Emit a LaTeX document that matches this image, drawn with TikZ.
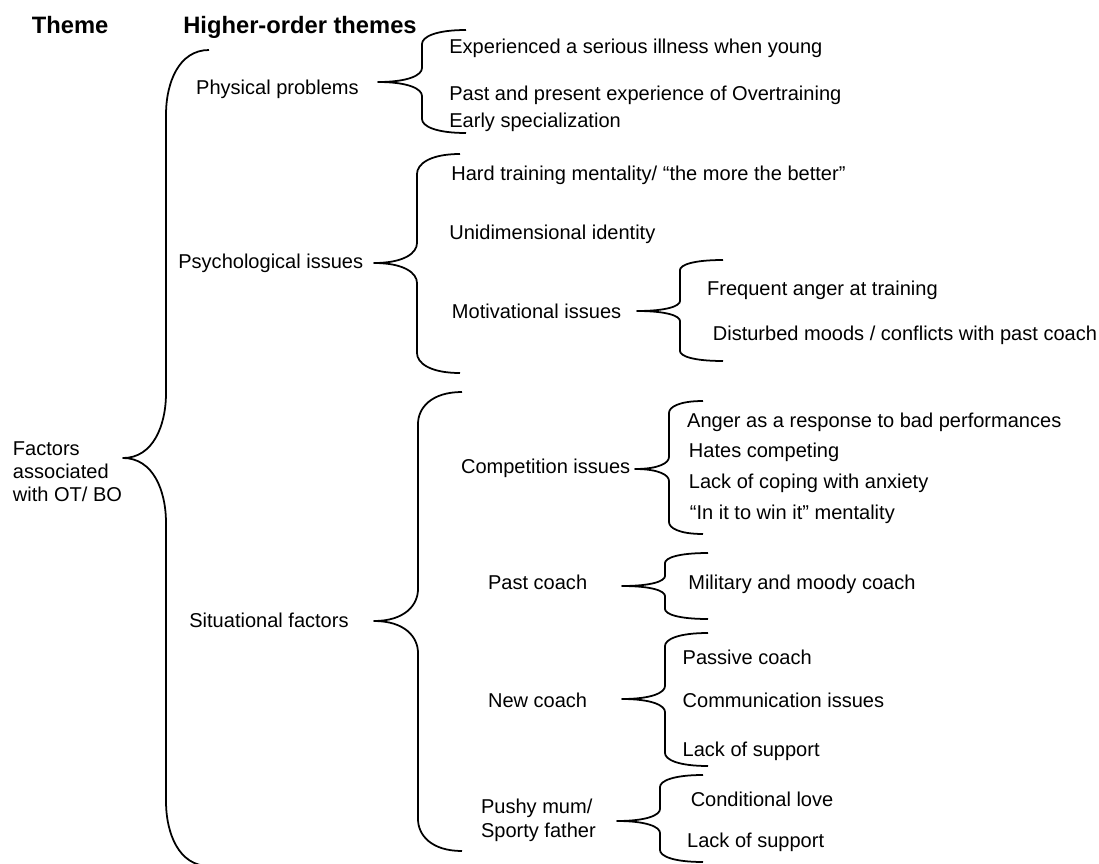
\documentclass[tikz,border=0pt]{standalone}
\usepackage{fontspec}
\setmainfont{Liberation Sans}
\usepackage{tikz}
\usetikzlibrary{positioning}
\tikzset{
  item/.style ={anchor=base west,inner sep=0pt,
                font=\fontsize{11.4}{13.1}\selectfont},
  multi/.style={item,align=left},
  head/.style ={anchor=base west,inner sep=0pt,
                font=\fontsize{13.5}{16}\selectfont\bfseries},
  brc/.style  ={draw=black,line width=1pt,line join=round}
}
% curly brace in Word style: line x, top y, tip y, bottom y, curl height, width
\newcommand{\wordbrace}[6]{%
  \draw[brc] (#1+#6,#2) .. controls (#1+0.3*#6,#2) and (#1,#2+0.5*#5) .. (#1,#2+#5)
    -- (#1,#3-#5) .. controls (#1,#3-0.5*#5) and (#1-0.3*#6,#3) .. (#1-#6,#3)
    .. controls (#1-0.3*#6,#3) and (#1,#3+0.5*#5) .. (#1,#3+#5)
    -- (#1,#4-#5) .. controls (#1,#4-0.5*#5) and (#1+0.3*#6,#4) .. (#1+#6,#4);}
\begin{document}
\begin{tikzpicture}[x=0.2mm,y=-0.2mm]
    \useasboundingbox (0,0) rectangle (1099,864);
    % --- column heads ---
    \node[head] (theme) at (31.6,33) {Theme};
    \node[head] (hot) at (183,33) {Higher-order themes};
    % --- theme (base = last line) ---
    \node[multi] (factors) at (12.6,501.6) {Factors\\associated\\with OT/ BO};
    \wordbrace{166}{50}{458}{866}{65}{43}
    % --- higher-order themes ---
    \node[item] (phys) at (195.8,94.3) {Physical problems};
    \node[item] (psych) at (178,268.3) {Psychological issues};
    \node[item] (sit) at (189,627.6) {Situational factors};
    % physical problems
    \wordbrace{422}{30}{82}{133}{14}{44}
    \node[item] (ill) at (449,53.6) {Experienced a serious illness when young};
    \node[item] (overtr) at (449,100.3) {Past and present experience of Overtraining};
    \node[item] (early) at (449,127) {Early specialization};
    % psychological issues
    \wordbrace{417}{154}{263}{373}{20}{43}
    \node[item] (hard) at (451,180) {Hard training mentality/ “the more the better”};
    \node[item] (unidim) at (449,239.3) {Unidimensional identity};
    \node[item] (motiv) at (451.6,318.3) {Motivational issues};
    \wordbrace{680}{260}{311}{361}{10}{43}
    \node[item] (angtr) at (706.8,295) {Frequent anger at training};
    \node[item] (moods) at (712.5,340) {Disturbed moods / conflicts with past coach};
    % situational factors
    \wordbrace{418}{392}{621}{851}{32}{44}
    \node[item] (comp) at (460.7,473.3) {Competition issues};
    \wordbrace{669}{401}{469}{534}{12}{34}
    \node[item] (angperf) at (686.8,427) {Anger as a response to bad performances};
    \node[item] (hates) at (688.6,457) {Hates competing};
    \node[item] (coping) at (688.6,488.6) {Lack of coping with anxiety};
    \node[item] (win) at (689.6,519.3) {“In it to win it” mentality};
    \node[item] (pastc) at (487.7,589.3) {Past coach};
    \wordbrace{665}{553}{586}{619}{10}{43}
    \node[item] (milit) at (688,589.3) {Military and moody coach};
    \node[item] (newc) at (487.7,707.6) {New coach};
    \wordbrace{665}{633}{699}{766}{13}{43}
    \node[item] (passive) at (682.3,664.3) {Passive coach};
    \node[item] (comm) at (682.3,707.6) {Communication issues};
    \node[item] (lacka) at (682.3,756) {Lack of support};
    \node[multi] (pushy) at (480.7,837) {Pushy mum/\\Sporty father};
    \wordbrace{660}{775}{821}{862}{12}{43}
    \node[item] (cond) at (690.4,806.6) {Conditional love};
    \node[item] (lackb) at (686.8,847.6) {Lack of support};
\end{tikzpicture}
\end{document}
